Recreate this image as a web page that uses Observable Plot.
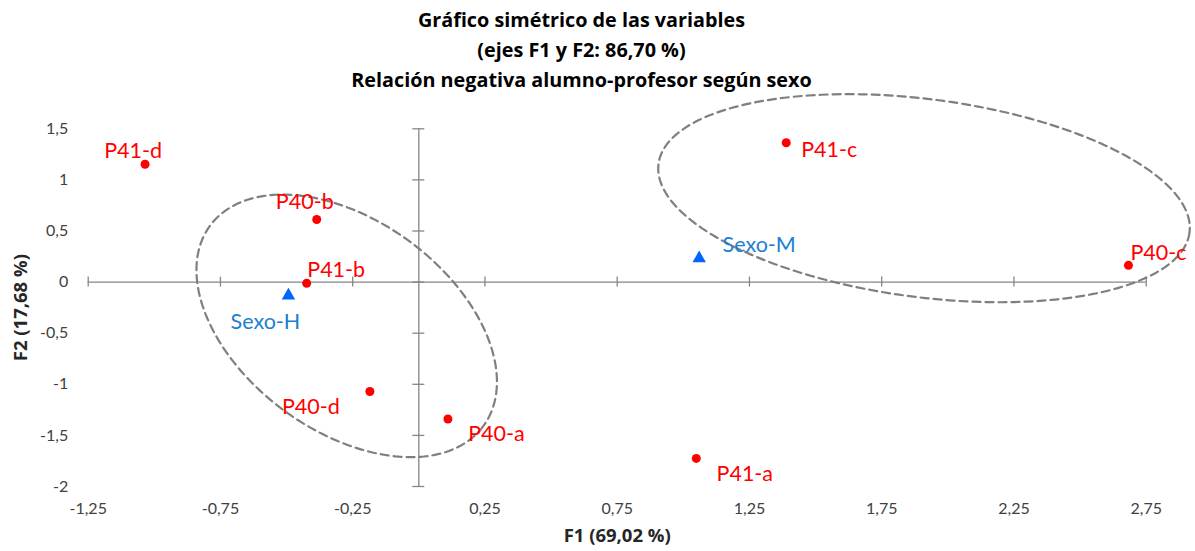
<!DOCTYPE html>
<html>
<head>
<meta charset="utf-8">
<script src="https://cdn.jsdelivr.net/npm/d3@7"></script>
<script src="https://cdn.jsdelivr.net/npm/@observablehq/plot@0.6"></script>
<style>
  html, body { margin: 0; padding: 0; background: #fff; overflow: hidden; }
  #title { width: 1195px; height: 95px; box-sizing: border-box; padding-top: 5px; padding-right: 32px;
           text-align: center; font-family: "Open Sans", "Noto Sans", sans-serif; font-weight: bold;
           font-size: 19.8px; line-height: 30px; color: #000; }
  #chart svg { overflow: visible; }
</style>
</head>
<body>
<div id="title">Gráfico simétrico de las variables<br>(ejes F1 y F2: 86,70 %)<br>Relación negativa alumno-profesor según sexo</div>
<div id="chart"></div>
<script>
// Variables (modalities)
const varLabels = ["P41-d", "P40-b", "P41-b", "P40-d", "P40-a", "P41-a", "P41-c", "P40-c"];
const varF1 = [-1.035, -0.386, -0.424, -0.185, 0.110, 1.049, 1.389, 2.683];
const varF2 = [1.153, 0.612, -0.012, -1.071, -1.339, -1.725, 1.364, 0.164];
// Supplementary: sexo
const sexLabels = ["Sexo-H", "Sexo-M"];
const sexF1 = [-0.493, 1.060];
const sexF2 = [-0.132, 0.232];
// Tick values
const xTicks = [-1.25, -0.75, -0.25, 0.25, 0.75, 1.25, 1.75, 2.25, 2.75];
const yTicks = [-2, -1.5, -1, -0.5, 0, 0.5, 1, 1.5];
// Label offsets (pixels) – styling
const varLabelDx = [-12, -12, 29.5, -59, 48.5, 48.5, 43, 30];
const varLabelDy = [-13, -17, -13, 16, 15, 16, 7, -12.5];
const sexLabelDx = [-23, 60];
const sexLabelDy = [26.5, -13];
// Grouping ellipses: center and conjugate semi-axis vectors (data units)
const ellipseCx = [-0.2727, 1.910];
const ellipseCy = [-0.4283, 0.821];
const ellipseUx = [0.5163, 1.0037];
const ellipseUy = [-0.9815, -0.3368];
const ellipseVx = [-0.2368, -0.0484];
const ellipseVy = [-0.8283, -0.9607];

const fmt = d => String(d).replace(".", ",");

const ellipsePts = [];
for (let e = 0; e < ellipseCx.length; e++) {
  const n = 240;
  for (let k = 0; k <= n; k++) {
    const t = (2 * Math.PI * k) / n;
    ellipsePts.push({
      e,
      x: ellipseCx[e] + Math.cos(t) * ellipseUx[e] + Math.sin(t) * ellipseVx[e],
      y: ellipseCy[e] + Math.cos(t) * ellipseUy[e] + Math.sin(t) * ellipseVy[e]
    });
  }
}

const vars = varLabels.map((l, i) => ({label: l, x: varF1[i], y: varF2[i], dx: varLabelDx[i], dy: varLabelDy[i]}));
const sexes = sexLabels.map((l, i) => ({label: l, x: sexF1[i], y: sexF2[i], dx: sexLabelDx[i], dy: sexLabelDy[i]}));

const axisColor = "#868686";
const font = "Lato, 'Noto Sans', sans-serif";
const boldFont = "'Open Sans', 'Noto Sans', sans-serif";

const marks = [
  // axes through origin
  Plot.ruleY([0], {stroke: axisColor, strokeWidth: 1.3}),
  Plot.ruleX([0], {stroke: axisColor, strokeWidth: 1.3}),
  Plot.ruleX(xTicks, {x: d => d, y1: 0, y2: 0, insetTop: -5, insetBottom: -5, stroke: axisColor, strokeWidth: 1.3}),
  Plot.ruleY(yTicks, {y: d => d, x1: 0, x2: 0, insetLeft: -6, insetRight: -6, stroke: axisColor, strokeWidth: 1.3}),
  // tick labels
  Plot.text(xTicks, {x: d => d, text: fmt, frameAnchor: "bottom", dy: 27, fontSize: 16, fill: "#404040", fontFamily: font}),
  Plot.text(yTicks, {y: d => d, text: fmt, frameAnchor: "left", textAnchor: "end", dx: -20, fontSize: 16, fill: "#404040", fontFamily: font}),
  // axis titles
  Plot.text(["F1 (69,02 %)"], {frameAnchor: "bottom", dy: 55, fontSize: 18.5, fontWeight: "bold", fill: "#262626", fontFamily: boldFont}),
  Plot.text(["F2 (17,68 %)"], {frameAnchor: "left", textAnchor: "middle", lineAnchor: "middle", rotate: -90, dx: -67, fontSize: 18.5, fontWeight: "bold", fill: "#262626", fontFamily: boldFont}),
  // ellipses
  Plot.line(ellipsePts, {x: "x", y: "y", z: "e", stroke: "#7f7f7f", strokeWidth: 2.2, strokeDasharray: "8,5", clip: false}),
  // points
  Plot.dot(vars, {x: "x", y: "y", r: 4.5, fill: "#ff0000"}),
  Plot.dot(sexes, {x: "x", y: "y", symbol: "triangle", r: 5, fill: "#0066ff"})
];
vars.forEach(v => marks.push(Plot.text([v], {x: "x", y: "y", text: "label", dx: v.dx, dy: v.dy, fontSize: 21.5, fill: "#ff0000", fontFamily: font})));
sexes.forEach(v => marks.push(Plot.text([v], {x: "x", y: "y", text: "label", dx: v.dx, dy: v.dy, fontSize: 21.5, fill: "#2080d0", fontFamily: font})));

const chart = Plot.plot({
  width: 1195,
  height: 456,
  marginLeft: 87.7,
  marginRight: 49.3,
  marginTop: 33.3,
  marginBottom: 65,
  style: {overflow: "visible", fontFamily: font},
  x: {domain: [-1.25, 2.75], axis: null},
  y: {domain: [-2, 1.5], axis: null},
  marks
});
document.getElementById("chart").appendChild(chart);
</script>
</body>
</html>
